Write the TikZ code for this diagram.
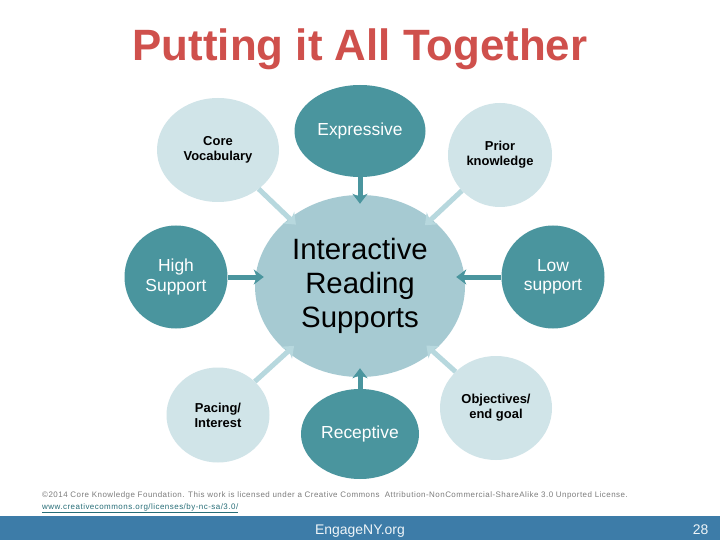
\documentclass[tikz,border=0pt]{standalone}
\usepackage{fontspec}
\setmainfont{Liberation Sans}
\usetikzlibrary{shapes.geometric,arrows.meta}

\definecolor{darkteal}{RGB}{74,149,158}
\definecolor{midteal}{RGB}{166,202,210}
\definecolor{paleteal}{RGB}{208,228,232}
\definecolor{arrowteal}{RGB}{183,216,222}
\definecolor{titlered}{RGB}{207,80,76}
\definecolor{barblue}{RGB}{61,124,168}
\definecolor{notegray}{RGB}{125,125,125}
\definecolor{linkteal}{RGB}{40,110,120}

\begin{document}
\begin{tikzpicture}
			[x=1bp,y=-1bp,
			bubble/.style={ellipse,inner sep=0pt,align=center},
			hub/.style={bubble,fill=midteal,minimum width=210bp,minimum height=182bp,font=\fontsize{29.5}{34}\selectfont},
			dark/.style={bubble,fill=darkteal,text=white,font=\fontsize{17.5}{19.5}\selectfont},
			pale/.style={bubble,fill=paleteal,font=\fontsize{13}{15}\selectfont\bfseries},
			footnote/.style={font=\fontsize{8}{9}\selectfont\addfontfeature{LetterSpace=6},anchor=base west,inner sep=0pt},
			darkedge/.style={draw=darkteal,line width=5bp,-{Stealth[length=10bp,width=15bp,inset=3bp]},shorten >=-9bp},
			paleedge/.style={draw=arrowteal,line width=5bp,-{Stealth[length=10bp,width=16bp,inset=3bp]},shorten >=-9bp}]
			\useasboundingbox[fill=white] (0,0) rectangle (720,540);

			\node[font=\fontsize{44}{50}\selectfont\bfseries,text=titlered,anchor=base] (title) at (360,61) {Putting it All Together};

			\node[hub] (irs) at (360,286) {Interactive\\Reading\\Supports};
			\node[dark,minimum width=131bp,minimum height=92bp] (expr) at (360,131) {Expressive};
			\node[dark,minimum width=118bp,minimum height=90bp] (recep) at (360,434) {Receptive};
			\node[dark,minimum size=103bp] (high) at (176,277) {High\\Support};
			\node[dark,minimum size=103bp] (low) at (553,277) {Low\\support};
			\node[pale,minimum width=122bp,minimum height=104bp] (core) at (218,150) {Core\\Vocabulary};
			\node[pale,minimum size=104bp] (prior) at (500,155) {Prior\\knowledge};
			\node[pale,minimum width=103bp,minimum height=95bp] (pace) at (218,415) {Pacing/\\Interest};
			\node[pale,minimum width=112bp,minimum height=104bp] (obj) at (496,408) {Objectives/\\end goal};

			\foreach \from/\to in {expr/irs,recep/irs,high/irs.west|-high,low/irs.east|-low}
			\draw[darkedge] (\from) -- (\to);
			\foreach \from/\to in {core/irs,prior/irs,pace/irs,obj/irs}
			\draw[paleedge] (\from) -- (\to);

			% footer
			\node[footnote,text=notegray] (note) at (42,497) {\textcopyright2014 Core Knowledge Foundation. This work is licensed under a Creative Commons\ \ Attribution-NonCommercial-ShareAlike 3.0 Unported License.};
			\node[footnote,text=linkteal] (link) at (42,509) {\underline{www.creativecommons.org/licenses/by-nc-sa/3.0/}};
			\fill[barblue] (0,516) rectangle (720,540);
			\node[font=\fontsize{14}{16}\selectfont,text=white!92!barblue,anchor=base] (site) at (360,534) {EngageNY.org};
			\node[font=\fontsize{14}{16}\selectfont,text=white!92!barblue,anchor=base east] (page) at (712,534) {28};

			\end{tikzpicture}
\end{document}
